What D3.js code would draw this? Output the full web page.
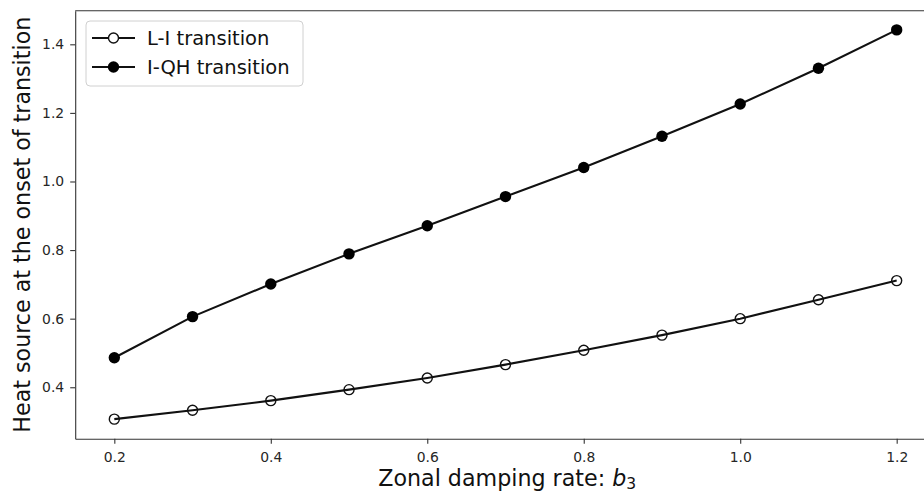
<!DOCTYPE html>
<html>
<head>
<meta charset="utf-8">
<script src="https://d3js.org/d3.v7.min.js"></script>
<style>
  body { margin: 0; background: #fff; }
  text { font-family: "DejaVu Sans", sans-serif; }
</style>
</head>
<body>
<div id="chart"></div>
<script>
// data
var dampingRates = [0.2, 0.3, 0.4, 0.5, 0.6, 0.7, 0.8, 0.9, 1.0, 1.1, 1.2];
var liTransition = [0.307, 0.333, 0.361, 0.393, 0.427, 0.466, 0.508, 0.552, 0.600, 0.655, 0.711];
var iqhTransition = [0.486, 0.606, 0.701, 0.789, 0.871, 0.956, 1.041, 1.132, 1.226, 1.330, 1.442];
var xTicks = [0.2, 0.4, 0.6, 0.8, 1.0, 1.2];
var yTicks = [0.4, 0.6, 0.8, 1.0, 1.2, 1.4];
var seriesNames = ["L-I transition", "I-QH transition"];

var svgWidth = 924;
var svgHeight = 493;

// axes box runs past the right edge of the picture (figure was cropped)
var margin = { top: 10.7, left: 75.2 };
var width = 860.6;
var height = 428;

var svg = d3.select("#chart")
  .append("svg")
  .attr("width", svgWidth)
  .attr("height", svgHeight);

var chartGroup = svg.append("g")
  .attr("transform", `translate(${margin.left}, ${margin.top})`);

var xScale = d3.scaleLinear()
  .domain([0.15, 1.25])
  .range([0, width]);

var yScale = d3.scaleLinear()
  .domain([0.25, 1.498])
  .range([height, 0]);

// axes (tickSize first, it also sets the outer size)
var bottomAxis = d3.axisBottom(xScale)
  .tickValues(xTicks)
  .tickFormat(d3.format(".1f"))
  .tickSize(5)
  .tickSizeOuter(0)
  .tickPadding(8);

var leftAxis = d3.axisLeft(yScale)
  .tickValues(yTicks)
  .tickFormat(d3.format(".1f"))
  .tickSize(5)
  .tickSizeOuter(0)
  .tickPadding(6);

var xAxis = chartGroup.append("g")
  .attr("transform", `translate(0, ${height})`)
  .call(bottomAxis);

var yAxis = chartGroup.append("g")
  .call(leftAxis);

[xAxis, yAxis].forEach(function(ax) {
  ax.selectAll("text")
    .style("font-size", "13.9px")
    .style("font-family", "DejaVu Sans")
    .attr("fill", "#262626");
  ax.selectAll("line").attr("stroke", "#333").attr("stroke-width", 1.1);
  ax.select(".domain").attr("stroke", "#333").attr("stroke-width", 1.1);
});

// top and right spines
chartGroup.append("line")
  .attr("x1", 0).attr("x2", width)
  .attr("y1", 0).attr("y2", 0)
  .attr("stroke", "#333")
  .attr("stroke-width", 1.1);
chartGroup.append("line")
  .attr("x1", width).attr("x2", width)
  .attr("y1", 0).attr("y2", height)
  .attr("stroke", "#333")
  .attr("stroke-width", 1.1);

// lines
var line = d3.line()
  .x(d => xScale(d[0]))
  .y(d => yScale(d[1]));

var liData = dampingRates.map((x, i) => [x, liTransition[i]]);
var iqhData = dampingRates.map((x, i) => [x, iqhTransition[i]]);

chartGroup.append("path")
  .datum(liData)
  .attr("d", line)
  .attr("fill", "none")
  .attr("stroke", "#111")
  .attr("stroke-width", 2.1);

chartGroup.append("path")
  .datum(iqhData)
  .attr("d", line)
  .attr("fill", "none")
  .attr("stroke", "#111")
  .attr("stroke-width", 2.1);

// open markers
chartGroup.selectAll(".li-dot")
  .data(liData)
  .enter()
  .append("circle")
  .attr("class", "li-dot")
  .attr("cx", d => xScale(d[0]))
  .attr("cy", d => yScale(d[1]))
  .attr("r", 5)
  .attr("fill", "none")
  .attr("stroke", "#111")
  .attr("stroke-width", 1.4);

// filled markers
chartGroup.selectAll(".iqh-dot")
  .data(iqhData)
  .enter()
  .append("circle")
  .attr("class", "iqh-dot")
  .attr("cx", d => xScale(d[0]))
  .attr("cy", d => yScale(d[1]))
  .attr("r", 5.7)
  .attr("fill", "#000");

// axis labels
var xLabel = chartGroup.append("text")
  .attr("x", 432)
  .attr("y", height + 47)
  .attr("text-anchor", "middle")
  .style("font-size", "22.2px")
  .attr("fill", "#111");
xLabel.append("tspan").text("Zonal damping rate: ");
xLabel.append("tspan").style("font-style", "italic").text("b");
xLabel.append("tspan")
  .attr("dy", 3)
  .style("font-size", "15.5px")
  .text("3");

chartGroup.append("text")
  .attr("transform", "rotate(-90)")
  .attr("x", 0 - (height / 2))
  .attr("y", 30 - margin.left)
  .attr("text-anchor", "middle")
  .style("font-size", "22.2px")
  .attr("fill", "#111")
  .text("Heat source at the onset of transition");

// legend
var legend = svg.append("g")
  .attr("transform", "translate(86, 21)");

legend.append("rect")
  .attr("width", 217)
  .attr("height", 65)
  .attr("rx", 4)
  .attr("fill", "#fff")
  .attr("fill-opacity", 0.8)
  .attr("stroke", "#d0d0d0")
  .attr("stroke-width", 1);

var legendRows = legend.selectAll(".legend-row")
  .data(seriesNames)
  .enter()
  .append("g")
  .attr("class", "legend-row")
  .attr("transform", (d, i) => `translate(0, ${17 + i * 29})`);

legendRows.append("line")
  .attr("x1", 6).attr("x2", 49)
  .attr("y1", 0).attr("y2", 0)
  .attr("stroke", "#111")
  .attr("stroke-width", 2.1);

legendRows.append("circle")
  .attr("cx", 27.5)
  .attr("cy", 0)
  .attr("r", (d, i) => i === 0 ? 5 : 5.7)
  .attr("fill", (d, i) => i === 0 ? "#fff" : "#000")
  .attr("stroke", "#111")
  .attr("stroke-width", (d, i) => i === 0 ? 1.4 : 0);

legendRows.append("text")
  .attr("x", 61)
  .attr("y", 7)
  .style("font-size", "19.5px")
  .attr("fill", "#111")
  .text(d => d);
</script>
</body>
</html>
